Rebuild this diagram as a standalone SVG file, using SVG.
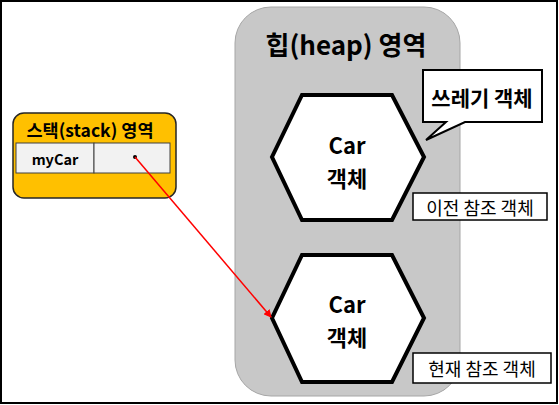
<svg xmlns="http://www.w3.org/2000/svg" width="559" height="405" viewBox="0 0 559 405">
<style>
text{font-family:"Noto Sans CJK KR","Noto Sans",sans-serif;fill:#000;text-anchor:middle;dominant-baseline:central}
.b{font-weight:bold}
.hex{fill:#fff;stroke:#000;stroke-width:4;stroke-linejoin:miter}
.lbl{fill:#fff;stroke:#000;stroke-width:1.5}
</style>
<defs>
<marker id="ah" markerWidth="8" markerHeight="8" refX="7" refY="4" orient="auto" markerUnits="userSpaceOnUse">
<path d="M0,0 L8,4 L0,8 z" fill="#f00"/>
</marker>
</defs>
<rect x="1" y="1" width="556" height="402" fill="#fff" stroke="#000" stroke-width="2"/>
<g id="heap">
<rect x="235" y="7" width="225" height="389" rx="36" ry="36" fill="#c8c8c8" stroke="#a6a6a6" stroke-width="1"/>
<text class="b" x="346" y="43" font-size="26">힙(heap) 영역</text>
</g>
<g id="stack">
<rect x="13" y="113" width="163" height="85" rx="11" ry="11" fill="#ffc000" stroke="#262626" stroke-width="1.5"/>
<text class="b" x="90" y="129" font-size="17.5">스택(stack) 영역</text>
<rect x="16" y="143" width="78" height="30" fill="#f2f2f2" stroke="#404040" stroke-width="1"/>
<rect x="94" y="143" width="76" height="30" fill="#f2f2f2" stroke="#404040" stroke-width="1"/>
<text class="b" x="55" y="158" font-size="14.5">myCar</text>
<circle cx="135" cy="157" r="2" fill="#000"/>
</g>
<g id="car1">
<polygon class="hex" points="302,95 392,95 424,157 392,220 302,220 272,157"/>
<text class="b" x="347" y="144" font-size="22">Car</text>
<text class="b" x="347" y="177" font-size="22">객체</text>
</g>
<g id="car2">
<polygon class="hex" points="302,255 392,255 424,318 392,382 302,382 272,318"/>
<text class="b" x="347" y="303" font-size="22">Car</text>
<text class="b" x="347" y="336" font-size="22">객체</text>
</g>
<g id="garbage">
<path d="M423,70 H542 V122 H465 L426,140 L446,122 H423 Z" fill="#fff" stroke="#000" stroke-width="2" stroke-linejoin="miter"/>
<text class="b" x="482" y="97" font-size="21">쓰레기 객체</text>
</g>
<g id="prev">
<rect class="lbl" x="413" y="193" width="134" height="27"/>
<text x="480" y="207" font-size="18">이전 참조 객체</text>
</g>
<g id="curr">
<rect class="lbl" x="413" y="353" width="138" height="30"/>
<text x="482" y="368" font-size="18">현재 참조 객체</text>
</g>
<g id="connectors">
<line x1="135" y1="157" x2="271" y2="317" stroke="#f00" stroke-width="1.5" marker-end="url(#ah)"/>
</g>
</svg>
